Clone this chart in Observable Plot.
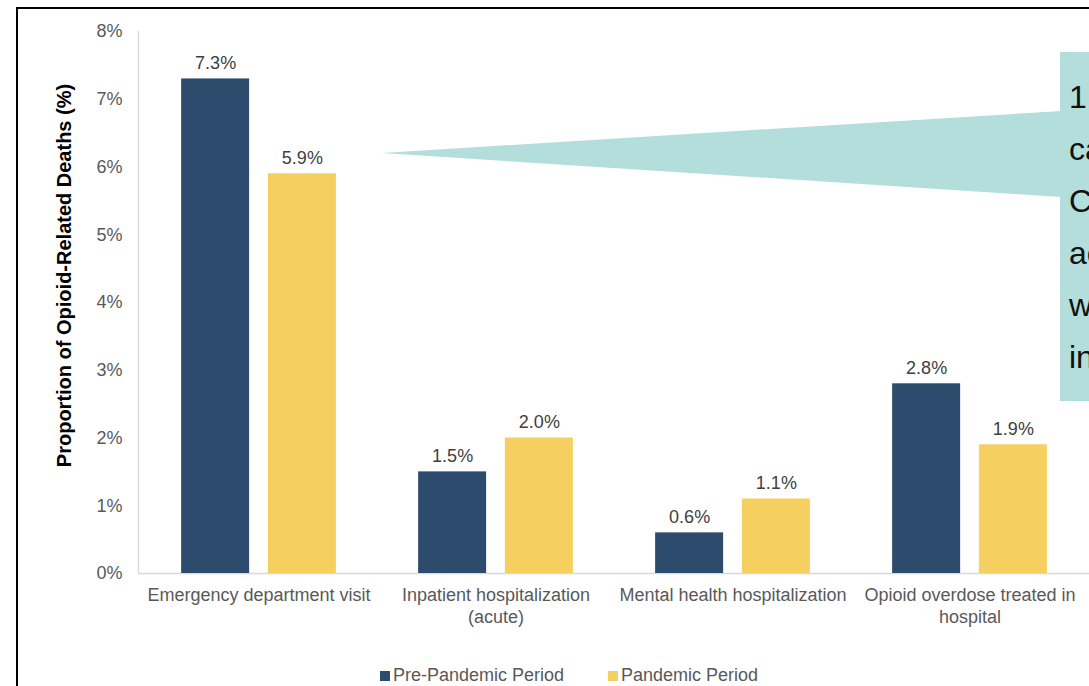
<!DOCTYPE html>
<html>
<head>
<meta charset="utf-8">
<script src="https://cdn.jsdelivr.net/npm/d3@7"></script>
<script src="https://cdn.jsdelivr.net/npm/@observablehq/plot@0.6"></script>
<style>
  html, body { margin: 0; padding: 0; background: #fff; overflow: hidden; width: 1089px; height: 686px; }
  #wrap { position: relative; width: 1089px; height: 686px; font-family: "Liberation Sans", Arial, sans-serif; }
  #frameBorder { position: absolute; left: 16px; top: 7px; width: 2000px; height: 2000px; border: 2px solid #000; box-sizing: border-box; pointer-events: none; }
  #legend { position: absolute; left: 0; top: 665px; width: 1089px; height: 20px; font-size: 18px; color: #595959; line-height: 20px; }
  .item { position: absolute; top: 0; white-space: nowrap; }
  .sw { display: inline-block; width: 10px; height: 10px; margin-right: 3px; vertical-align: 0px; }
  #callout { position: absolute; left: 0; top: 0; pointer-events: none; }
</style>
</head>
<body>
<div id="wrap">
  <div id="chart"></div>
  <div id="legend"></div>
  <svg id="callout" width="1089" height="686"></svg>
  <div id="frameBorder"></div>
</div>
<script>
// ---- data ----
const categories = ["Emergency department visit", "Inpatient hospitalization (acute)", "Mental health hospitalization", "Opioid overdose treated in hospital"];
const categoryLabels = ["Emergency department visit", "Inpatient hospitalization\n(acute)", "Mental health hospitalization", "Opioid overdose treated in\nhospital"];
const periods = ["Pre-Pandemic Period", "Pandemic Period"];
const prePandemic = [7.3, 1.5, 0.6, 2.8];
const pandemic = [5.9, 2.0, 1.1, 1.9];
const yTicks = [0, 1, 2, 3, 4, 5, 6, 7, 8];
const yLabel = "Proportion of Opioid-Related Deaths (%)";
const periodColors = ["#2d4b6c", "#f5d060"];
const calloutLines = ["1 in 14 deaths", "came after", "Contact with", "acute care", "within a", "in the week"];

const rows = [];
categories.forEach((c, i) => {
  rows.push({category: c, period: periods[0], value: prePandemic[i]});
  rows.push({category: c, period: periods[1], value: pandemic[i]});
});
const preRows = rows.filter(d => d.period === periods[0]);
const panRows = rows.filter(d => d.period === periods[1]);
const labelOf = new Map(categories.map((c, i) => [c, categoryLabels[i]]));

const W = 1089, H = 650;
const marginLeft = 138, marginRight = 0, marginTop = 31, marginBottom = 77;
const band = (W - marginLeft - marginRight) / categories.length;
const barW = 68.75, gap = 18, outer = (band - 2 * barW - gap) / 2;
const off = (barW + gap) / 2;

const chart = Plot.plot({
  width: W,
  height: H,
  marginLeft, marginRight, marginTop, marginBottom,
  style: {fontFamily: "'Liberation Sans', Arial, sans-serif", fontSize: "18px", color: "#595959", background: "transparent"},
  x: {domain: categories, padding: 0, axis: null},
  y: {domain: [0, 8], axis: null},
  marks: [
    Plot.frame({anchor: "left", stroke: "#d9d9d9", strokeWidth: 1.3}),
    Plot.ruleY([0], {stroke: "#d9d9d9", strokeWidth: 1.3}),
    Plot.barY(preRows, {x: "category", y: "value", fill: periodColors[0], insetLeft: outer, insetRight: outer + barW + gap}),
    Plot.barY(panRows, {x: "category", y: "value", fill: periodColors[1], insetLeft: outer + barW + gap, insetRight: outer}),
    Plot.text(preRows, {x: "category", y: "value", text: d => d.value.toFixed(1) + "%", dx: -off, dy: -10, lineAnchor: "bottom", fill: "#404040", fontSize: 18}),
    Plot.text(panRows, {x: "category", y: "value", text: d => d.value.toFixed(1) + "%", dx: off, dy: -10, lineAnchor: "bottom", fill: "#404040", fontSize: 18}),
    Plot.axisY({ticks: yTicks, tickFormat: d => d + "%", tickSize: 0, tickPadding: 16, label: null, fontSize: 18}),
    Plot.axisX({tickSize: 0, tickPadding: 13, label: null, tickFormat: d => labelOf.get(d), fontSize: 18, lineHeight: 1.17}),
    Plot.text([yLabel], {frameAnchor: "left", textAnchor: "middle", lineAnchor: "middle", rotate: -90, dx: -74, dy: -27, fontWeight: "bold", fontSize: 20, fill: "#000"})
  ]
});
document.getElementById("chart").appendChild(chart);

// legend
const legend = document.getElementById("legend");
const legendX = [380, 608];
periods.forEach((p, i) => {
  const item = document.createElement("span");
  item.className = "item";
  item.style.left = legendX[i] + "px";
  const sw = document.createElement("span");
  sw.className = "sw";
  sw.style.background = periodColors[i];
  item.appendChild(sw);
  item.appendChild(document.createTextNode(p));
  legend.appendChild(item);
});

// callout annotation (teal)
const cs = d3.select("#callout");
cs.append("polygon").attr("points", "382,153 1061,111 1061,197").attr("fill", "#b3dedb");
cs.append("rect").attr("x", 1060).attr("y", 52).attr("width", 60).attr("height", 349).attr("fill", "#b3dedb");
cs.selectAll("text.c").data(calloutLines).join("text")
  .attr("class", "c")
  .attr("x", 1069)
  .attr("y", (d, i) => 108 + i * 52)
  .attr("font-family", "'Liberation Sans', Arial, sans-serif")
  .attr("font-size", 32)
  .attr("fill", "#111")
  .text(d => d);
</script>
</body>
</html>
